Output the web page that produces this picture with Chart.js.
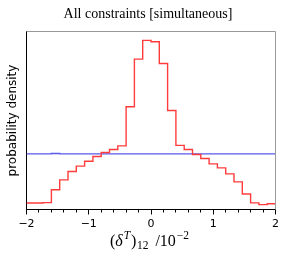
<!DOCTYPE html>
<html>
<head>
<meta charset="utf-8">
<script src="https://cdn.jsdelivr.net/npm/chart.js@4/dist/chart.umd.min.js"></script>
<style>
  html, body { margin: 0; padding: 0; background: #fff; }
  canvas { display: block; }
</style>
</head>
<body>
<canvas id="densityChart" width="296" height="261"></canvas>
<script>
const titleText = 'All constraints [simultaneous]';
const yLabel = 'probability density';
const xMin = -2, xMax = 2;
const yMin = 0, yMax = 0.8;
const majorTicks = [-2, -1, 0, 1, 2];
const majorTickLabels = ['\u22122', '\u22121', '0', '1', '2'];
const minorStep = 0.2;

// 30 equal bins over [-2, 2]
const posteriorDensity = [
    0.029, 0.029, 0.031, 0.089, 0.133, 0.171, 0.195, 0.217, 0.238, 0.256,
    0.270, 0.286, 0.462, 0.676, 0.760, 0.754, 0.656, 0.445, 0.288, 0.270,
    0.247, 0.229, 0.205, 0.187, 0.160, 0.124, 0.070, 0.030, 0.022, 0.026
];
const priorDensity = [
    0.250, 0.250, 0.250, 0.252, 0.250, 0.250, 0.250, 0.250, 0.250, 0.250,
    0.250, 0.250, 0.250, 0.250, 0.250, 0.250, 0.250, 0.250, 0.250, 0.250,
    0.250, 0.250, 0.250, 0.250, 0.250, 0.250, 0.250, 0.250, 0.250, 0.250
];

function toSteps(values) {
    const w = (xMax - xMin) / values.length;
    const pts = values.map((v, i) => ({ x: xMin + i * w, y: v }));
    pts.push({ x: xMax, y: values[values.length - 1] });
    return pts;
}

// top/right frame, minor ticks and the math x label
const extras = {
    id: 'extras',
    afterDraw(chart) {
        const { ctx, chartArea: a, scales: { x } } = chart;
        const al = v => Math.round(v - 0.5) + 0.5;
        ctx.save();
        ctx.lineWidth = 1;
        ctx.strokeStyle = '#999';
        ctx.beginPath();
        ctx.moveTo(al(a.left), al(a.top));
        ctx.lineTo(al(a.right), al(a.top));
        ctx.lineTo(al(a.right), al(a.bottom));
        ctx.stroke();

        ctx.strokeStyle = '#000';
        ctx.beginPath();
        for (let v = xMin + minorStep; v < xMax - 1e-9; v += minorStep) {
            if (Math.abs(v - Math.round(v)) < 1e-6) continue;
            const px = al(x.getPixelForValue(v));
            ctx.moveTo(px, al(a.bottom));
            ctx.lineTo(px, al(a.bottom) + 3);
        }
        ctx.stroke();

        const big = '16px "Liberation Serif"', bigIt = 'italic 16px "Liberation Serif"';
        const small = '11.5px "Liberation Serif"', smallIt = 'italic 11.5px "Liberation Serif"';
        const base = 245.5;
        const parts = [
            { t: '(', f: big, dy: 0, gap: 0 },
            { t: '\u03b4', f: bigIt, dy: 0, gap: 1 },
            { t: 'T', f: smallIt, dy: -6.5, gap: 1 },
            { t: ')', f: big, dy: 0, gap: 0.5 },
            { t: '12', f: small, dy: 3, gap: 7 },
            { t: '/10', f: big, dy: 0, gap: 1 },
            { t: '\u22122', f: small, dy: -7, gap: 0 }
        ];
        let total = 0;
        parts.forEach(p => { ctx.font = p.f; p.w = ctx.measureText(p.t).width; total += p.w + p.gap; });
        let cx = (a.left + a.right) / 2 - 1.5 - total / 2;
        ctx.fillStyle = '#000';
        ctx.textBaseline = 'alphabetic';
        ctx.textAlign = 'left';
        parts.forEach(p => {
            ctx.font = p.f;
            ctx.fillText(p.t, cx, base + p.dy);
            cx += p.w + p.gap;
        });
        ctx.restore();
    }
};

const ctx = document.getElementById('densityChart').getContext('2d');
new Chart(ctx, {
    type: 'line',
    data: {
        datasets: [
            {
                label: 'posterior',
                data: toSteps(posteriorDensity),
                stepped: true,
                borderColor: 'rgb(255, 60, 60)',
                borderWidth: 1.4,
                pointRadius: 0,
                fill: false
            },
            {
                label: 'prior',
                data: toSteps(priorDensity),
                stepped: true,
                borderColor: 'rgb(90, 90, 235)',
                borderWidth: 1.4,
                pointRadius: 0,
                fill: false
            }
        ]
    },
    options: {
        responsive: false,
        animation: false,
        devicePixelRatio: 1,
        layout: { padding: 0 },
        plugins: {
            legend: { display: false },
            tooltip: { enabled: false },
            title: {
                display: true,
                text: titleText,
                color: '#000',
                font: { family: 'Liberation Serif', size: 14, weight: 'normal' },
                padding: { top: 6, bottom: 8.7 }
            }
        },
        scales: {
            x: {
                type: 'linear',
                min: xMin,
                max: xMax,
                afterBuildTicks: s => { s.ticks = majorTicks.map(v => ({ value: v })); },
                afterFit: s => { s.height = 51.5; },
                ticks: {
                    color: '#000',
                    font: { family: 'DejaVu Sans', size: 11 },
                    padding: 3,
                    maxRotation: 0,
                    callback: (v, i) => majorTickLabels[i]
                },
                grid: {
                    drawOnChartArea: false,
                    tickLength: 5,
                    tickColor: '#000',
                    tickWidth: 1
                },
                border: { color: '#000', width: 1 }
            },
            y: {
                min: yMin,
                max: yMax,
                afterFit: s => { s.width = 26.5; },
                ticks: { display: false },
                grid: { display: false },
                border: { color: '#000', width: 1 },
                title: {
                    display: true,
                    text: yLabel,
                    color: '#000',
                    font: { family: 'DejaVu Sans', size: 12 },
                    padding: { top: 6, bottom: 0 }
                }
            },
            // empty right-hand margin so the title centres like the original
            yRight: {
                position: 'right',
                min: yMin,
                max: yMax,
                afterFit: s => { s.width = 20.5; },
                ticks: { display: false },
                grid: { display: false },
                border: { display: false }
            }
        }
    },
    plugins: [extras]
});
</script>
</body>
</html>
